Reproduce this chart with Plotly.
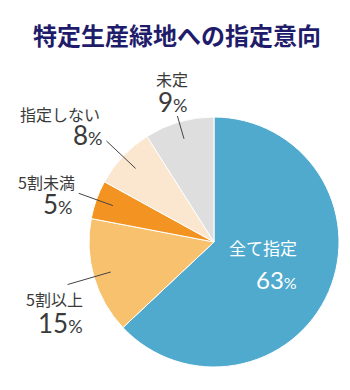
import math
import plotly.graph_objects as go

# ---- data ----
categories = ["全て指定", "5割以上", "5割未満", "指定しない", "未定"]
values = [63, 15, 5, 8, 9]
colors = ["#4FAACE", "#F8C16E", "#F39422", "#FBE7D0", "#DEDEDE"]
title_text = "特定生産緑地への指定意向"

W, H = 350, 390
CX, CY, R = 214, 242, 125

def px(x):
    return x / W

def py(y):
    return 1 - y / H

fig = go.Figure()
fig.add_trace(go.Pie(
    labels=categories,
    values=values,
    sort=False,
    direction="clockwise",
    rotation=0,
    marker=dict(colors=colors, line=dict(color="white", width=1)),
    textinfo="none",
    hoverinfo="label+percent",
    showlegend=False,
    domain=dict(x=[px(CX - R), px(CX + R)], y=[py(CY + R), py(CY - R)]),
))

# label layout: (label right x, y), (value right x, y), color, label size, value size, leader outer radius
label_layout = {
    "全て指定": ((299, 248), (299, 279), "white", 17, 24, None),
    "5割以上": ((85, 299), (85, 323), "#3a3a3a", 16, 26, 1.22),
    "5割未満": ((77, 182), (75, 204), "#3a3a3a", 16, 26, 1.15),
    "指定しない": ((102, 114), (105, 135), "#3a3a3a", 16, 26, 1.18),
    "未定": ((190, 79), (190, 102), "#3a3a3a", 16, 26, 1.05),
}

total = sum(values)
cum = 0
shapes = []
annotations = []
FONT = "Noto Sans CJK JP"
NUMFONT = "Lato"
for cat, v in zip(categories, values):
    mid = (cum + v / 2) / total * 2 * math.pi
    cum += v
    (lx, ly), (vx, vy), col, ls, vs, rout = label_layout[cat]
    annotations.append(dict(x=px(lx), y=py(ly), xref="paper", yref="paper",
                            text=cat, showarrow=False,
                            font=dict(family=FONT, size=ls, color=col),
                            xanchor="right", yanchor="middle"))
    annotations.append(dict(x=px(vx), y=py(vy), xref="paper", yref="paper",
                            text=f"{v}<span style='font-size:{round(vs*0.68)}px'>%</span>",
                            showarrow=False,
                            font=dict(family=NUMFONT, size=vs, color=col),
                            xanchor="right", yanchor="middle"))
    if rout:
        rin = 0.86
        x0 = CX + R * rin * math.sin(mid)
        y0 = CY - R * rin * math.cos(mid)
        x1 = CX + R * rout * math.sin(mid)
        y1 = CY - R * rout * math.cos(mid)
        shapes.append(dict(type="line", xref="paper", yref="paper",
                           x0=px(x0), y0=py(y0), x1=px(x1), y1=py(y1),
                           line=dict(color="#444444", width=1)))

annotations.append(dict(x=px(177), y=py(34), xref="paper", yref="paper",
                        text=f"<b>{title_text}</b>", showarrow=False,
                        font=dict(family=FONT, size=24, color="#1F1C6B"),
                        xanchor="center", yanchor="middle"))

fig.update_layout(
    width=W, height=H,
    margin=dict(l=0, r=0, t=0, b=0),
    paper_bgcolor="white", plot_bgcolor="white",
    shapes=shapes, annotations=annotations,
)
fig.write_html("out.html")
